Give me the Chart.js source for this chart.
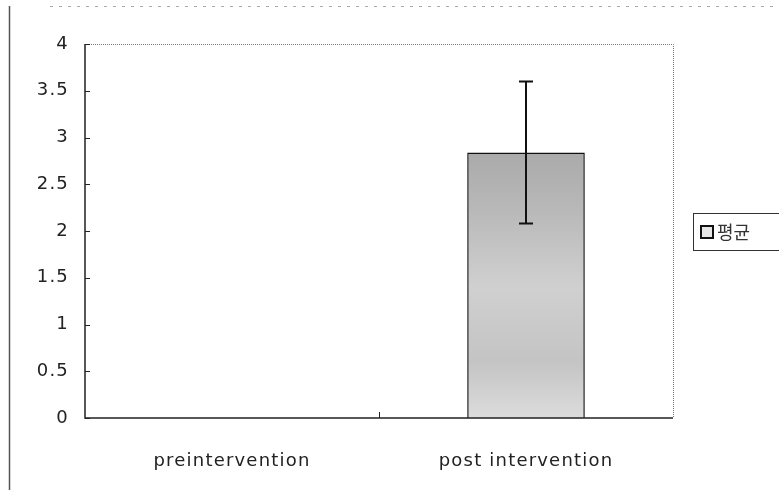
<!DOCTYPE html>
<html>
<head>
<meta charset="utf-8">
<script src="https://cdn.jsdelivr.net/npm/chart.js@4.4.1/dist/chart.umd.min.js"></script>
<style>
  body { margin: 0; background: #fff; }
  canvas { display: block; }
</style>
</head>
<body>
<canvas id="myChart" width="779" height="490"></canvas>
<script>
// data
const categories = ['preintervention', 'post intervention'];
const means = [0, 2.84];
const errors = [0, 0.76];
const seriesLabel = '평균';
const yMax = 4;
const yStep = 0.5;

// the scan uses a wide font, so spread the letters slightly
const spacing = {
  id: 'spacing',
  beforeLayout(chart) { chart.ctx.letterSpacing = '1.2px'; },
  beforeDraw(chart) { chart.ctx.letterSpacing = '1.2px'; }
};

// error bars, plot frame, inward ticks, legend box, scan frame
const decorations = {
  id: 'decorations',
  afterDatasetsDraw(chart) {
    const { ctx, chartArea: a, scales: { x, y } } = chart;
    ctx.save();

    // scan frame
    ctx.strokeStyle = '#555';
    ctx.lineWidth = 1.5;
    ctx.beginPath();
    ctx.moveTo(9.5, 6); ctx.lineTo(9.5, 490);
    ctx.stroke();
    ctx.setLineDash([3, 6]);
    ctx.strokeStyle = '#aaa';
    ctx.lineWidth = 1;
    ctx.beginPath();
    ctx.moveTo(50, 6.5); ctx.lineTo(779, 6.5);
    ctx.stroke();
    ctx.setLineDash([]);

    // plot frame: dotted top/right, solid left/bottom
    ctx.strokeStyle = '#777';
    ctx.setLineDash([1, 1]);
    ctx.beginPath();
    ctx.moveTo(a.left, a.top + 0.5); ctx.lineTo(a.right + 0.5, a.top + 0.5);
    ctx.lineTo(a.right + 0.5, a.bottom);
    ctx.stroke();
    ctx.setLineDash([]);
    ctx.strokeStyle = '#222';
    ctx.lineWidth = 1.5;
    ctx.beginPath();
    ctx.moveTo(a.left, a.top); ctx.lineTo(a.left, a.bottom); ctx.lineTo(a.right, a.bottom);
    ctx.stroke();

    // inward y ticks
    ctx.lineWidth = 1;
    ctx.beginPath();
    for (let v = 0; v <= yMax; v += yStep) {
      const py = Math.round(y.getPixelForValue(v)) + 0.5;
      ctx.moveTo(a.left, py); ctx.lineTo(a.left + 5, py);
    }
    // category separator tick
    const mid = Math.round((x.getPixelForValue(0) + x.getPixelForValue(1)) / 2) + 0.5;
    ctx.moveTo(mid, a.bottom); ctx.lineTo(mid, a.bottom - 6);
    ctx.stroke();

    // error bars
    ctx.strokeStyle = '#111';
    ctx.lineWidth = 2;
    means.forEach((m, i) => {
      if (!errors[i]) return;
      const px = Math.round(x.getPixelForValue(i));
      const top = y.getPixelForValue(m + errors[i]);
      const bot = y.getPixelForValue(m - errors[i]);
      ctx.beginPath();
      ctx.moveTo(px, top); ctx.lineTo(px, bot);
      ctx.moveTo(px - 7, top); ctx.lineTo(px + 7, top);
      ctx.moveTo(px - 7, bot); ctx.lineTo(px + 7, bot);
      ctx.stroke();
    });

    // legend
    ctx.strokeStyle = '#333';
    ctx.lineWidth = 1;
    ctx.strokeRect(693.5, 213.5, 100, 37);
    ctx.fillStyle = '#e6e6e6';
    ctx.fillRect(700, 225, 14, 14);
    ctx.strokeStyle = '#111';
    ctx.lineWidth = 2;
    ctx.strokeRect(701, 226, 12, 12);
    ctx.fillStyle = '#333';
    ctx.letterSpacing = '0px';
    ctx.font = '18px "Noto Sans CJK KR"';
    ctx.textBaseline = 'middle';
    ctx.fillText(seriesLabel, 717, 232);
    ctx.restore();
  }
};

const barFill = (c) => {
  const area = c.chart.chartArea;
  if (!area) return '#bbb';
  const g = c.chart.ctx.createLinearGradient(0, area.top, 0, area.bottom);
  g.addColorStop(0.28, '#a9a9a9');
  g.addColorStop(0.45, '#b9b9b9');
  g.addColorStop(0.65, '#d0d0d0');
  g.addColorStop(0.85, '#c4c4c4');
  g.addColorStop(1, '#dcdcdc');
  return g;
};

const tickFont = { family: 'DejaVu Sans', size: 18 };

const ctx = document.getElementById('myChart');
const myChart = new Chart(ctx, {
  type: 'bar',
  data: {
    labels: categories,
    datasets: [{
      label: seriesLabel,
      data: means,
      backgroundColor: barFill,
      borderColor: '#111',
      borderWidth: 1.5,
      categoryPercentage: 1,
      barPercentage: 0.4
    }]
  },
  options: {
    responsive: false,
    animation: false,
    layout: { padding: { left: 0, top: 44, right: 106, bottom: 0 } },
    plugins: {
      legend: { display: false },
      tooltip: { enabled: false }
    },
    scales: {
      x: {
        grid: { display: false, drawTicks: false },
        border: { display: false },
        ticks: { color: '#222', font: tickFont, padding: 33 },
        afterFit: (s) => { s.height = 72; }
      },
      y: {
        min: 0,
        max: yMax,
        grid: { display: false, drawTicks: false },
        border: { display: false },
        ticks: {
          stepSize: yStep,
          color: '#222',
          font: tickFont,
          padding: 16,
          callback: (v) => String(v)
        },
        afterFit: (s) => { s.width = 85; }
      }
    }
  },
  plugins: [spacing, decorations]
});
</script>
</body>
</html>
